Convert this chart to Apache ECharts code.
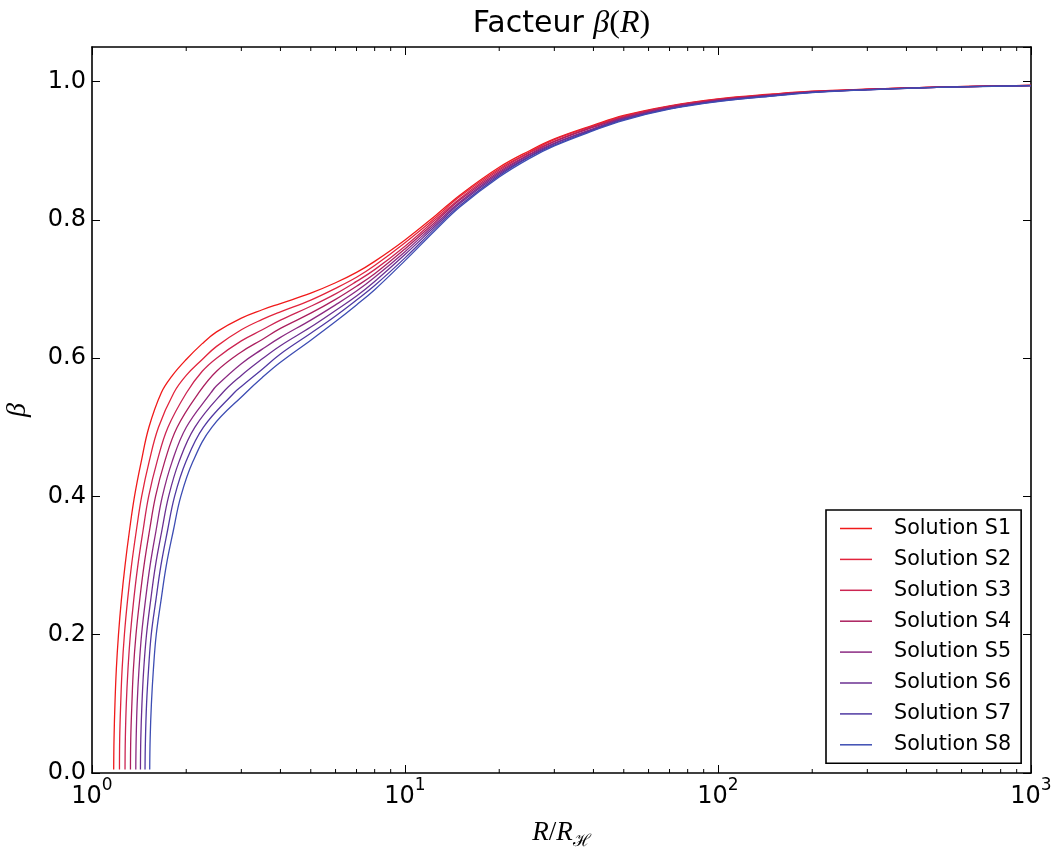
<!DOCTYPE html>
<html>
<head>
<meta charset="utf-8">
<title>Facteur β(R)</title>
<script src="https://cdn.jsdelivr.net/npm/echarts@6/dist/echarts.min.js"></script>
<style>
  html, body { margin: 0; padding: 0; background: #ffffff; }
  #chart { width: 1052px; height: 850px; }
</style>
</head>
<body>
<div id="chart"></div>
<script>
// Solution names and line colours (red → blue)
const seriesNames = ['Solution S1', 'Solution S2', 'Solution S3', 'Solution S4',
                     'Solution S5', 'Solution S6', 'Solution S7', 'Solution S8'];
const seriesColors = ['#f01a1a', '#e2243c', '#cc2552', '#ab1f5e',
                      '#8b2a82', '#6b3092', '#5039a2', '#3d4db3'];

// Steep onset: radius R/R_H at which each solution reaches these β levels
const betaLevels = [0.005, 0.05, 0.1, 0.15, 0.2, 0.25, 0.3, 0.35, 0.4, 0.45, 0.5, 0.55];
const s1Onset = [1.173, 1.176, 1.184, 1.196, 1.215, 1.241, 1.275, 1.317, 1.367, 1.436, 1.520, 1.665];
const s2Onset = [1.224, 1.226, 1.235, 1.248, 1.269, 1.299, 1.337, 1.385, 1.441, 1.522, 1.631, 1.826];
const s3Onset = [1.275, 1.278, 1.287, 1.303, 1.326, 1.359, 1.401, 1.455, 1.517, 1.613, 1.749, 2.004];
const s4Onset = [1.327, 1.330, 1.341, 1.356, 1.382, 1.420, 1.466, 1.526, 1.596, 1.706, 1.871, 2.194];
const s5Onset = [1.380, 1.384, 1.394, 1.413, 1.440, 1.482, 1.533, 1.601, 1.678, 1.802, 2.001, 2.400];
const s6Onset = [1.428, 1.432, 1.444, 1.463, 1.493, 1.540, 1.595, 1.671, 1.757, 1.896, 2.130, 2.614];
const s7Onset = [1.477, 1.482, 1.494, 1.516, 1.546, 1.600, 1.660, 1.742, 1.836, 1.995, 2.268, 2.847];
const s8Onset = [1.529, 1.534, 1.548, 1.571, 1.604, 1.662, 1.727, 1.818, 1.922, 2.099, 2.414, 3.101];

// Beyond the onset: β sampled on a common radius grid (null = not yet reached)
const radiusGrid = [1.8, 2.0, 2.25, 2.5, 3, 3.5, 4, 5, 6, 7, 8, 10, 12.5, 15,
                    20, 25, 30, 40, 50, 70, 100, 150, 200, 300, 500, 1000];
const s1Beta = [0.574, 0.598, 0.621, 0.638, 0.658, 0.670, 0.679, 0.694, 0.709, 0.724, 0.740, 0.771, 0.806, 0.836,
                0.876, 0.900, 0.917, 0.937, 0.951, 0.965, 0.975, 0.982, 0.986, 0.989, 0.992, 0.9945];
const s2Beta = [null, 0.575, 0.598, 0.617, 0.641, 0.656, 0.667, 0.684, 0.701, 0.717, 0.734, 0.767, 0.803, 0.834,
                0.874, 0.898, 0.916, 0.936, 0.950, 0.964, 0.9745, 0.9816, 0.9857, 0.9889, 0.9919, 0.9944];
const s3Beta = [null, null, 0.581, 0.600, 0.625, 0.641, 0.655, 0.675, 0.693, 0.711, 0.728, 0.762, 0.800, 0.831,
                0.872, 0.897, 0.914, 0.935, 0.949, 0.964, 0.9739, 0.9811, 0.9854, 0.9887, 0.9919, 0.9944];
const s4Beta = [null, null, null, 0.581, 0.609, 0.627, 0.643, 0.665, 0.685, 0.704, 0.722, 0.758, 0.797, 0.829,
                0.870, 0.895, 0.913, 0.934, 0.948, 0.963, 0.9733, 0.9807, 0.9851, 0.9886, 0.9918, 0.9943];
const s5Beta = [null, null, null, 0.560, 0.592, 0.613, 0.630, 0.655, 0.677, 0.697, 0.717, 0.754, 0.794, 0.826,
                0.868, 0.894, 0.911, 0.932, 0.947, 0.962, 0.9727, 0.9803, 0.9849, 0.9884, 0.9917, 0.9942];
const s6Beta = [null, null, null, null, 0.575, 0.599, 0.618, 0.645, 0.669, 0.690, 0.711, 0.750, 0.791, 0.824,
                0.866, 0.892, 0.910, 0.931, 0.946, 0.961, 0.9721, 0.9799, 0.9846, 0.9883, 0.9917, 0.9942];
const s7Beta = [null, null, null, null, 0.559, 0.584, 0.606, 0.636, 0.661, 0.684, 0.705, 0.745, 0.788, 0.821,
                0.864, 0.891, 0.908, 0.930, 0.945, 0.961, 0.9716, 0.9794, 0.9843, 0.9881, 0.9916, 0.9941];
const s8Beta = [null, null, null, null, null, 0.572, 0.594, 0.626, 0.653, 0.677, 0.699, 0.741, 0.785, 0.819,
                0.862, 0.889, 0.907, 0.929, 0.944, 0.960, 0.971, 0.979, 0.984, 0.988, 0.9915, 0.994];

// Axis ticks
const yTicks = [0.0, 0.2, 0.4, 0.6, 0.8, 1.0];
const minorTicks = [2, 3, 4, 5, 6, 7, 8, 9, 20, 30, 40, 50, 60, 70, 80, 90,
                    200, 300, 400, 500, 600, 700, 800, 900];

const onsets = [s1Onset, s2Onset, s3Onset, s4Onset, s5Onset, s6Onset, s7Onset, s8Onset];
const betas = [s1Beta, s2Beta, s3Beta, s4Beta, s5Beta, s6Beta, s7Beta, s8Beta];

function curve(onset, beta) {
  const pts = onset.map((r, k) => [r, betaLevels[k]]);
  radiusGrid.forEach((r, k) => { if (beta[k] !== null) pts.push([r, beta[k]]); });
  return pts;
}

const SANS = '"DejaVu Sans", sans-serif';
const SERIF = '"Liberation Serif", "DejaVu Serif", serif';
const BLACK = '#000000';

const lineSeries = seriesNames.map((name, i) => ({
  name: name,
  type: 'line',
  data: curve(onsets[i], betas[i]),
  symbol: 'none',
  showSymbol: false,
  smooth: 0.4,
  lineStyle: { color: seriesColors[i], width: 1.3 },
  itemStyle: { color: seriesColors[i] },
  emphasis: { disabled: true },
  z: 3
}));

// Minor log ticks on the bottom and top frame edges
const minorTickSeries = {
  type: 'custom',
  silent: true,
  xAxisIndex: 0,
  yAxisIndex: 0,
  data: minorTicks.map(v => [v, 0]),
  renderItem: function (params, api) {
    const v = api.value(0);
    const b = api.coord([v, 0]);
    const t = api.coord([v, 1.05]);
    const st = { stroke: BLACK, lineWidth: 1 };
    return {
      type: 'group',
      children: [
        { type: 'line', shape: { x1: b[0], y1: b[1], x2: b[0], y2: b[1] - 4 }, style: st },
        { type: 'line', shape: { x1: t[0], y1: t[1], x2: t[0], y2: t[1] + 4 }, style: st }
      ]
    };
  },
  z: 4
};

const axisLineStyle = { show: true, onZero: false, lineStyle: { color: BLACK, width: 1.6 } };
const tickStyle = { show: true, inside: true, length: 8, lineStyle: { color: BLACK, width: 1 } };

function powerLabel(value) {
  const e = Math.round(Math.log10(value));
  return '{b|10}{e|' + e + '}';
}

function yLabel(value) {
  const hit = yTicks.some(t => Math.abs(t - value) < 1e-9);
  return hit ? value.toFixed(1) : '';
}

const option = {
  animation: false,
  backgroundColor: '#ffffff',
  grid: { left: 92, top: 47, width: 939, height: 726, outerBoundsMode: 'none', containLabel: false },
  legend: {
    orient: 'vertical',
    left: 826,
    top: 510,
    data: seriesNames,
    icon: 'rect',
    itemWidth: 32,
    itemHeight: 1.5,
    itemGap: 9.9,
    padding: [8, 10, 8, 14],
    borderColor: BLACK,
    borderWidth: 1.6,
    borderRadius: 0,
    backgroundColor: '#ffffff',
    selectedMode: false,
    textStyle: { fontFamily: SANS, fontSize: 20.7, color: BLACK, padding: [0, 0, 0, 17] }
  },
  xAxis: [
    {
      type: 'log', logBase: 10, min: 1, max: 1000, position: 'bottom',
      axisLine: axisLineStyle, axisTick: tickStyle,
      splitLine: { show: false },
      axisLabel: {
        margin: 4,
        formatter: powerLabel,
        rich: {
          b: { fontFamily: SANS, fontSize: 24, color: BLACK, verticalAlign: 'bottom', padding: [8, 0, 0, 0] },
          e: { fontFamily: SANS, fontSize: 17, color: BLACK, verticalAlign: 'top' }
        }
      },
      name: '{g|R}{p|/}{g|R}{s|ℋ}',
      nameLocation: 'middle',
      nameGap: 46,
      nameTextStyle: {
        rich: {
          g: { fontFamily: SERIF, fontStyle: 'italic', fontSize: 27, color: BLACK, verticalAlign: 'top' },
          p: { fontFamily: SERIF, fontSize: 27, color: BLACK, verticalAlign: 'top' },
          s: { fontFamily: SERIF, fontSize: 17, color: BLACK, verticalAlign: 'bottom', padding: [14, 0, 0, 0] }
        }
      }
    },
    {
      type: 'log', logBase: 10, min: 1, max: 1000, position: 'top',
      axisLine: axisLineStyle, axisTick: tickStyle,
      splitLine: { show: false },
      axisLabel: { show: false },
      name: '{t|Facteur }{g|β}{p|(}{g|R}{p|)}',
      nameLocation: 'middle',
      nameGap: 7,
      nameTextStyle: {
        rich: {
          t: { fontFamily: SANS, fontSize: 30, color: BLACK },
          g: { fontFamily: SERIF, fontStyle: 'italic', fontSize: 32, color: BLACK },
          p: { fontFamily: SERIF, fontSize: 32, color: BLACK }
        }
      }
    }
  ],
  yAxis: [
    {
      type: 'value', min: 0, max: 1.05, interval: 0.2, position: 'left',
      axisLine: axisLineStyle, axisTick: tickStyle,
      splitLine: { show: false },
      axisLabel: { margin: 6, formatter: yLabel, fontFamily: SANS, fontSize: 24, color: BLACK, showMaxLabel: false },
      name: 'β',
      nameLocation: 'middle',
      nameRotate: 90,
      nameGap: 60,
      nameTextStyle: { fontFamily: SERIF, fontStyle: 'italic', fontSize: 28, color: BLACK }
    },
    {
      type: 'value', min: 0, max: 1.05, interval: 0.2, position: 'right',
      axisLine: axisLineStyle, axisTick: tickStyle,
      splitLine: { show: false },
      axisLabel: { show: false }
    }
  ],
  series: lineSeries.concat([minorTickSeries])
};

const chart = echarts.init(document.getElementById('chart'), null, { renderer: 'canvas' });
chart.setOption(option);
</script>
</body>
</html>
